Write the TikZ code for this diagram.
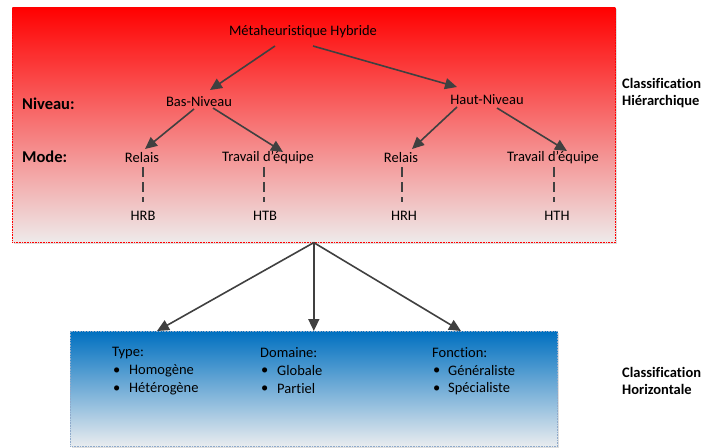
\documentclass[tikz,border=0pt]{standalone}
\usepackage{fontspec}
\setmainfont{Carlito}[Ligatures=NoCommon]
\usetikzlibrary{arrows.meta,calc,shadows}
\definecolor{arrgray}{HTML}{404040}
\definecolor{redtop}{HTML}{FF0000}
\definecolor{redbot}{HTML}{EEEAEA}
\definecolor{bluetop}{HTML}{0070C0}
\definecolor{bluebot}{HTML}{E9ECEF}
\definecolor{blueline}{HTML}{8FAACB}
\begin{document}
\begin{tikzpicture}[x=1pt,y=-1pt,
  font=\fontsize{14.5}{17}\selectfont,
  arr/.style={draw=arrgray, line width=1.6pt, -{Triangle[length=12pt,width=11pt]}},
  dsh/.style={draw=arrgray, line width=1.1pt, dash pattern=on 10pt off 5pt},
  lbl/.style={inner sep=0pt},
  bold/.style={inner sep=0pt, font=\fontsize{14.5}{17}\selectfont\bfseries, anchor=west},
  bigbold/.style={inner sep=0pt, font=\fontsize{16.5}{19}\selectfont\bfseries, anchor=west},
  box/.style={anchor=north west, inner sep=0pt, line width=0.6pt, densely dotted,
    drop shadow={shadow xshift=1.5pt, shadow yshift=-1.5pt, opacity=0.25}}]
\useasboundingbox (0,0) rectangle (703,447);

% boxes
\node[box, draw=red, top color=redtop, bottom color=redbot,
  minimum width=603pt, minimum height=235pt] (hier) at (12,7) {};
\node[box, draw=blueline, top color=bluetop, bottom color=bluebot,
  minimum width=487pt, minimum height=115pt] (horiz) at (70,331) {};

% hierarchical tree
\node[lbl] (meta) at (303,32) {Métaheuristique Hybride};
\node[lbl] (bas) at (199,102) {Bas-Niveau};
\node[lbl] (haut) at (487,100) {Haut-Niveau};
\node[lbl] (r1) at (142,158) {Relais};
\node[lbl] (t1) at (268,158) {Travail d’équipe};
\node[lbl] (r2) at (401,158) {Relais};
\node[lbl] (t2) at (553,158) {Travail d’équipe};
\node[lbl] (hrb) at (143,216) {HRB};
\node[lbl] (htb) at (265,216) {HTB};
\node[lbl] (hrh) at (404,216) {HRH};
\node[lbl] (hth) at (557,216) {HTH};

\node[bigbold] (niv) at (22,104) {Niveau:};
\node[bigbold] (mode) at (22,157) {Mode:};
\node[bold, align=left] (chier) at (622,93) {Classification\\Hiérarchique};
\node[bold, align=left] (choriz) at (622,381) {Classification\\Horizontale};

\draw[arr] ($(meta.center)+(-28,14)$) -- ($(bas.center)+(11,-12)$);
\draw[arr] ($(meta.center)+(10,14)$) -- ($(haut.center)+(-30,-13)$);
\draw[arr] ($(bas.center)+(-5,7)$) -- ($(r1.center)+(3,-9)$);
\draw[arr] ($(bas.center)+(14,6)$) -- ($(t1.center)+(15,-6)$);
\draw[arr] ($(haut.center)+(-30,7)$) -- ($(r2.center)+(11,-9)$);
\draw[arr] ($(haut.center)+(10,8)$) -- ($(t2.center)+(14,-7)$);

\draw[dsh] ($(r1.center)+(1,9)$) -- ($(hrb.center)+(0,-14)$);
\draw[dsh] ($(t1.center)+(-4,9)$) -- ($(htb.center)+(-1,-14)$);
\draw[dsh] ($(r2.center)+(1,9)$) -- ($(hrh.center)+(-2,-14)$);
\draw[dsh] ($(t2.center)+(1,9)$) -- ($(hth.center)+(-3,-14)$);

% horizontal classification arrows
\draw[arr] (hier.south) -- ($(horiz.north west)+(87,0)$);
\draw[arr] (hier.south) -- (horiz.north);
\draw[arr] (hier.south) -- ($(horiz.north west)+(391,0)$);

% horizontal box content
\node[lbl, anchor=west] (type) at (112,353) {Type:};
\node[lbl, anchor=west] (tb1) at (113,371) {•};
\node[lbl, anchor=west] (ti1) at (129,371) {Homogène};
\node[lbl, anchor=west] (tb2) at (113,389) {•};
\node[lbl, anchor=west] (ti2) at (129,389) {Hétérogène};

\node[lbl, anchor=west] (dom) at (260,353) {Domaine:};
\node[lbl, anchor=west] (db1) at (261,371) {•};
\node[lbl, anchor=west] (di1) at (277,371) {Globale};
\node[lbl, anchor=west] (db2) at (261,389) {•};
\node[lbl, anchor=west] (di2) at (277,389) {Partiel};

\node[lbl, anchor=west] (fon) at (432,353) {Fonction:};
\node[lbl, anchor=west] (fb1) at (433,371) {•};
\node[lbl, anchor=west] (fi1) at (448,371) {Généraliste};
\node[lbl, anchor=west] (fb2) at (433,389) {•};
\node[lbl, anchor=west] (fi2) at (448,389) {Spécialiste};
\end{tikzpicture}
\end{document}
